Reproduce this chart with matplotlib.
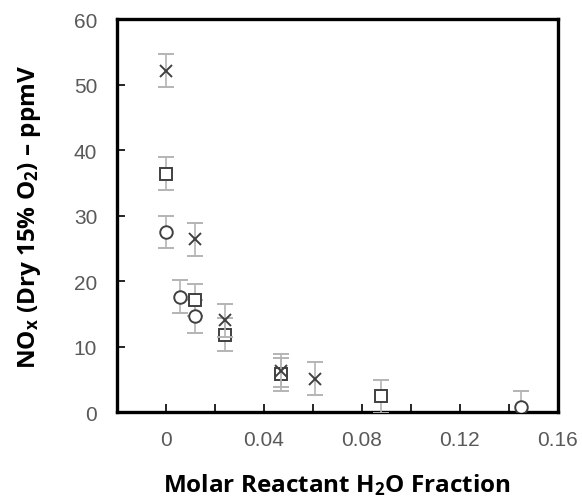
import matplotlib
matplotlib.use("Agg")
import matplotlib.pyplot as plt
from matplotlib.ticker import MultipleLocator, FixedLocator

plt.rcParams['mathtext.fontset'] = 'custom'
plt.rcParams['mathtext.rm'] = 'Open Sans:bold'
plt.rcParams['mathtext.bf'] = 'Open Sans:bold'
plt.rcParams['mathtext.it'] = 'Open Sans:bold'

# NOx vs water fraction, three burner series
cross_x = [0.0, 0.012, 0.024, 0.047, 0.061]
cross_y = [52.1, 26.4, 14.0, 6.3, 5.1]

square_x = [0.0, 0.012, 0.024, 0.047, 0.088]
square_y = [36.4, 17.1, 11.8, 5.8, 2.4]

circle_x = [0.0, 0.006, 0.012, 0.145]
circle_y = [27.5, 17.6, 14.6, 0.8]

err = 2.5

x_ticks = [0.0, 0.04, 0.08, 0.12, 0.16]
x_tick_labels = ["0", "0.04", "0.08", "0.12", "0.16"]
y_ticks = [0, 10, 20, 30, 40, 50, 60]

fig = plt.figure(figsize=(5.82, 5.02), dpi=100)
ax = fig.add_axes([0.2005, 0.177, 0.758, 0.783])

ecol = "#b4b4b4"
mcol = "#404040"
common = dict(linestyle="none", ecolor=ecol, elinewidth=1.2, capsize=6,
              capthick=1.2)

ax.errorbar(circle_x, circle_y, yerr=err, marker="o", ms=9, mfc="white",
            mec=mcol, mew=1.4, zorder=3, **common)
ax.errorbar(square_x, square_y, yerr=err, marker="s", ms=8.5, mfc="white",
            mec=mcol, mew=1.4, zorder=3, **common)
ax.errorbar(cross_x, cross_y, yerr=err, marker="x", ms=8, mec=mcol,
            mew=1.4, zorder=4, **common)

ax.set_xlim(-0.02, 0.16)
ax.set_ylim(0, 60)
ax.xaxis.set_major_locator(FixedLocator(x_ticks))
ax.set_xticklabels(x_tick_labels)
ax.xaxis.set_minor_locator(MultipleLocator(0.02))
ax.set_yticks(y_ticks)

for s in ax.spines.values():
    s.set_linewidth(2.4)
    s.set_color("black")

ax.tick_params(axis="both", which="both", direction="in", color="black",
               width=1.2, labelsize=15, labelcolor="#595959",
               labelfontfamily="Liberation Sans")
ax.tick_params(axis="both", which="major", length=6)
ax.tick_params(axis="x", which="both", length=6, pad=13)
ax.tick_params(axis="y", which="major", pad=14)

ax.set_xlabel("Molar Reactant H$_\\mathbf{2}$O Fraction", fontsize=17.5,
              fontfamily="Open Sans", fontweight="bold", labelpad=16)
ax.set_ylabel("NO$_\\mathbf{x}$ (Dry 15% O$_\\mathbf{2}$) \u2013 ppmV",
              fontsize=17.5, fontfamily="Open Sans", fontweight="bold",
              labelpad=22)

fig.savefig("out.png", dpi=100, facecolor="white")
